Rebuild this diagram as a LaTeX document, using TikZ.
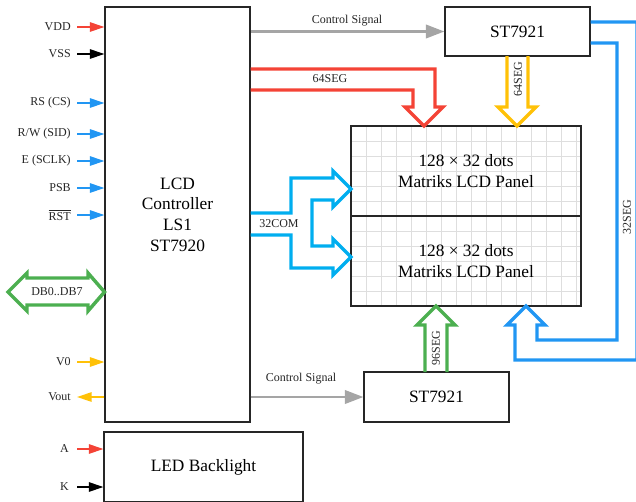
\documentclass[tikz,border=0pt]{standalone}
\usepackage{fontspec}
\setmainfont{Liberation Serif}
\usetikzlibrary{arrows.meta}
\definecolor{cred}{RGB}{244,67,54}
\definecolor{cblue}{RGB}{33,150,243}
\definecolor{ccyan}{RGB}{0,174,239}
\definecolor{cgreen}{RGB}{76,175,80}
\definecolor{corange}{RGB}{255,193,7}
\definecolor{cgray}{RGB}{165,165,165}
\definecolor{gridc}{RGB}{222,222,222}
\begin{document}
\begin{tikzpicture}[x=0.75pt,y=-0.75pt,
  box/.style={draw=black!85,line width=0.8pt,inner sep=0pt,align=center,font=\fontsize{13}{15.5}\selectfont},
  pinlbl/.style={anchor=east,inner sep=0pt,font=\fontsize{9}{10}\selectfont,text=black!85},
  pinarrow/.style={line width=1.5pt,-{Triangle[length=11pt,width=7pt]}},
  ctrlarrow/.style={cgray,line width=2.2pt,-{Triangle[length=14pt,width=10pt]}},
  hollow/.style={line width=2.6pt,line join=miter,miter limit=4},
  small/.style={inner sep=0pt,font=\fontsize{9}{10}\selectfont,text=black!85},
  gridl/.style={gridc,line width=0.7pt}]
\useasboundingbox (0,0) rectangle (636,501);
\clip (0,0) rectangle (636,501);
% grid of the panel
\foreach \i in {1,...,15} \draw[gridl] (351+15*\i,126) -- (351+15*\i,306);
\foreach \j in {1,...,11} \draw[gridl] (351,126+15*\j) -- (581,126+15*\j);
% boxes
\node[box,minimum width=108.75pt,minimum height=311.25pt] (ctrl) at (177.5,214.5) {LCD\\Controller\\LS1\\ST7920};
\node[box,minimum width=108.75pt,minimum height=36.75pt] (sttop) at (517.5,31.5) {ST7921};
\node[box,minimum width=108.75pt,minimum height=37.5pt] (stbot) at (436.5,397) {ST7921};
\node[box,minimum width=149.25pt,minimum height=52.5pt] (led) at (203.5,467) {LED Backlight};
\node[box,minimum width=172.5pt,minimum height=67.5pt] (panel1) at (466,171) {128 × 32 dots\\Matriks LCD Panel};
\node[box,minimum width=172.5pt,minimum height=67.5pt] (panel2) at (466,261) {128 × 32 dots\\Matriks LCD Panel};
% pins
\node[pinlbl] (vdd) at (71,27) {VDD};
\node[pinlbl] (vss) at (71,54) {VSS};
\node[pinlbl] (rs) at (71,103) {RS (CS)};
\node[pinlbl] (rw) at (71,134) {R/W (SID)};
\node[pinlbl] (e) at (71,161) {E (SCLK)};
\node[pinlbl] (psb) at (71,188) {PSB};
\node[pinlbl] (rst) at (71,215) {$\overline{\mbox{RST}}$};
\node[pinlbl] (v0) at (71,362) {V0};
\node[pinlbl] (vout) at (71,397) {Vout};
\node[pinlbl] (pa) at (69,449) {A};
\node[pinlbl] (pk) at (69,487) {K};
\draw[pinarrow,cred] ([xshift=4.5pt]vdd.east) -- (vdd -| ctrl.west);
\draw[pinarrow,black] ([xshift=4.5pt]vss.east) -- (vss -| ctrl.west);
\draw[pinarrow,cblue] ([xshift=4.5pt]rs.east) -- (rs -| ctrl.west);
\draw[pinarrow,cblue] ([xshift=4.5pt]rw.east) -- (rw -| ctrl.west);
\draw[pinarrow,cblue] ([xshift=4.5pt]e.east) -- (e -| ctrl.west);
\draw[pinarrow,cblue] ([xshift=4.5pt]psb.east) -- (psb -| ctrl.west);
\draw[pinarrow,cblue] ([xshift=4.5pt]rst.east) -- (rst -| ctrl.west);
\draw[pinarrow,corange] ([xshift=4.5pt]v0.east) -- (v0 -| ctrl.west);
\draw[pinarrow,corange] (vout -| ctrl.west) -- ([xshift=4.5pt]vout.east);
\draw[pinarrow,cred] ([xshift=6pt]pa.east) -- (pa -| led.west);
\draw[pinarrow,black] ([xshift=6pt]pk.east) -- (pk -| led.west);
% data bus double arrow
\node[small] (db) at (57,292) {DB0..DB7};
\draw[hollow,cgreen] (27,278) -- (88,278) -- (88,273) -- (ctrl.west |- 0,292) -- (88,311) -- (88,305) -- (27,305) -- (27,311) -- (8,292) -- (27,273) -- cycle;
% control signals
\draw[ctrlarrow] (ctrl.east |- sttop) -- (sttop.west);
\node[small] (cs1) at (347,21) {Control Signal};
\draw[ctrlarrow] (ctrl.east |- stbot) -- (stbot.west);
\node[small] (cs2) at (301,379) {Control Signal};
% 64SEG red
\draw[hollow,cred] (ctrl.east |- 0,69) -- (435,69) -- (435,107) -- (443,107) -- (424,126) -- (405,107) -- (413,107) -- (413,90) -- (ctrl.east |- 0,90);
\node[small] (s64a) at (330,79) {64SEG};
% 64SEG orange
\draw[hollow,corange] (507,56) -- (507,107) -- (498,107) -- (517,126) -- (536,107) -- (528,107) -- (528,56);
\node[small,rotate=90] (s64b) at (518,79) {64SEG};
% 32COM
\draw[hollow,ccyan] (ctrl.east |- 0,213) -- (291,213) -- (291,178) -- (333,178) -- (333,171) -- (351,189) -- (333,207) -- (333,200) -- (312,200) -- (312,246) -- (333,246) -- (333,239) -- (351,257) -- (333,275) -- (333,268) -- (291,268) -- (291,235) -- (ctrl.east |- 0,235);
\node[small] (c32) at (279,224) {32COM};
% 96SEG green
\draw[hollow,cgreen] (425,372) -- (425,325) -- (417,325) -- (436,306) -- (455,325) -- (447,325) -- (447,372);
\node[small,rotate=90] (s96) at (436,348) {96SEG};
% 32SEG blue
\draw[hollow,cblue] (sttop.east |- 0,43) -- (617,43) -- (617,340) -- (537,340) -- (537,325) -- (545,325) -- (526,306) -- (507,325) -- (515,325) -- (515,360) -- (637,360) -- (637,22) -- (sttop.east |- 0,22);
\node[small,rotate=90] (s32) at (627,217) {32SEG};
\end{tikzpicture}
\end{document}
